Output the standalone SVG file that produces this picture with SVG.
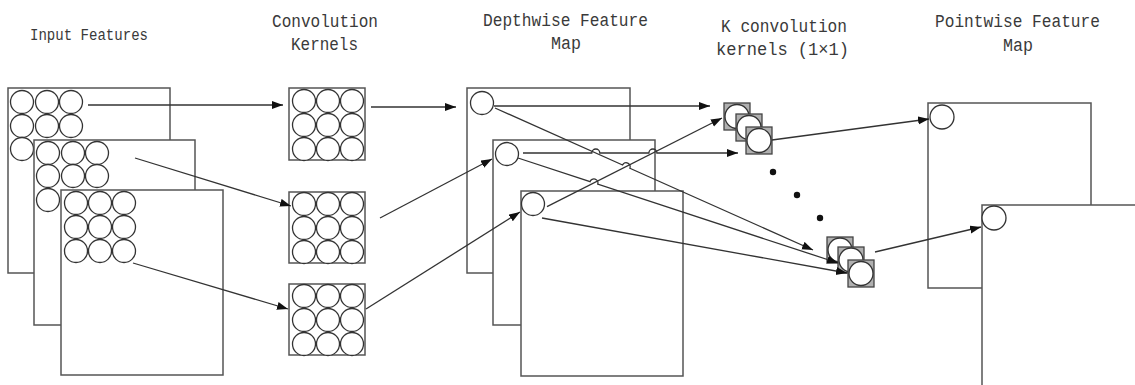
<svg xmlns="http://www.w3.org/2000/svg" width="1135" height="385" viewBox="0 0 1135 385">
<style>
.t{font-family:"Liberation Mono","DejaVu Sans Mono",monospace;fill:#3a3a3a;}
.h{font-size:18px;}
.s{font-size:16px;}
.fr{fill:#fff;stroke:#555;stroke-width:1.5;}
.c{fill:#fff;stroke:#333;stroke-width:1.3;}
.sq{fill:#b0b0b0;stroke:#444;stroke-width:1.3;}
.ln{fill:none;stroke:#333;stroke-width:1.3;}
.ar{marker-end:url(#ah);}
</style>
<defs>
<marker id="ah" markerUnits="userSpaceOnUse" markerWidth="12" markerHeight="10" refX="11" refY="4" orient="auto">
<path d="M0,0 L11,4 L0,8 Z" fill="#111"/>
</marker>
<g id="g3x3">
<circle class="c" cx="0" cy="0" r="11.5"/><circle class="c" cx="24" cy="0" r="11.5"/><circle class="c" cx="48" cy="0" r="11.5"/>
<circle class="c" cx="0" cy="24" r="11.5"/><circle class="c" cx="24" cy="24" r="11.5"/><circle class="c" cx="48" cy="24" r="11.5"/>
<circle class="c" cx="0" cy="48" r="11.5"/><circle class="c" cx="24" cy="48" r="11.5"/><circle class="c" cx="48" cy="48" r="11.5"/>
</g>
</defs>
<rect width="1135" height="385" fill="#fff"/>

<g id="labels">
<text class="t s" x="30" y="40" textLength="118" lengthAdjust="spacingAndGlyphs">Input Features</text>
<text class="t h" x="272" y="27" textLength="106" lengthAdjust="spacingAndGlyphs">Convolution</text>
<text class="t h" x="291" y="50" textLength="67" lengthAdjust="spacingAndGlyphs">Kernels</text>
<text class="t h" x="483" y="26" textLength="165" lengthAdjust="spacingAndGlyphs">Depthwise Feature</text>
<text class="t h" x="551" y="49" textLength="30" lengthAdjust="spacingAndGlyphs">Map</text>
<text class="t h" x="721" y="32" textLength="126" lengthAdjust="spacingAndGlyphs">K convolution</text>
<text class="t h" x="716" y="55" textLength="133" lengthAdjust="spacingAndGlyphs">kernels (1×1)</text>
<text class="t h" x="935" y="27" textLength="165" lengthAdjust="spacingAndGlyphs">Pointwise Feature</text>
<text class="t h" x="1003" y="51" textLength="30" lengthAdjust="spacingAndGlyphs">Map</text>
</g>

<g id="input-features">
<rect class="fr" x="8" y="88" width="162" height="185"/>
<circle class="c" cx="22" cy="102" r="11.5"/><circle class="c" cx="47" cy="102" r="11.5"/><circle class="c" cx="71" cy="102" r="11.5"/>
<circle class="c" cx="22" cy="126" r="11.5"/><circle class="c" cx="47" cy="126" r="11.5"/><circle class="c" cx="71" cy="126" r="11.5"/>
<circle class="c" cx="22" cy="149" r="11.5"/>
<rect class="fr" x="34" y="140" width="161" height="185"/>
<circle class="c" cx="48" cy="153" r="11.5"/><circle class="c" cx="73" cy="153" r="11.5"/><circle class="c" cx="97" cy="153" r="11.5"/>
<circle class="c" cx="48" cy="176" r="11.5"/><circle class="c" cx="73" cy="176" r="11.5"/><circle class="c" cx="97" cy="176" r="11.5"/>
<circle class="c" cx="48" cy="200" r="11.5"/>
<rect class="fr" x="61" y="190" width="162" height="185"/>
<use href="#g3x3" transform="translate(76,203)"/>
</g>

<g id="conv-kernels">
<rect class="fr" x="289" y="88" width="76" height="72"/>
<use href="#g3x3" transform="translate(304,101)"/>
<rect class="fr" x="289" y="192" width="76" height="71"/>
<use href="#g3x3" transform="translate(304,204)"/>
<rect class="fr" x="289" y="284" width="76" height="71"/>
<use href="#g3x3" transform="translate(304,296)"/>
</g>

<g id="depthwise-maps">
<rect class="fr" x="467" y="88" width="163" height="185"/>
<circle class="c" cx="482" cy="103" r="11.5"/>
<rect class="fr" x="493" y="140" width="162" height="185"/>
<circle class="c" cx="507" cy="154" r="11.5"/>
<rect class="fr" x="521" y="191" width="162" height="185"/>
<circle class="c" cx="533" cy="204" r="11.5"/>
</g>

<g id="k-kernels-top">
<rect class="sq" x="724" y="103" width="26" height="27"/><circle class="c" cx="737" cy="116.5" r="12"/>
<rect class="sq" x="736" y="114" width="26" height="27"/><circle class="c" cx="749" cy="127.5" r="12"/>
<rect class="sq" x="746" y="127" width="26" height="27"/><circle class="c" cx="759" cy="140.5" r="12"/>
</g>
<g id="k-dots">
<circle cx="773" cy="172" r="3.2" fill="#111"/>
<circle cx="797" cy="195" r="3.2" fill="#111"/>
<circle cx="820" cy="218" r="3.2" fill="#111"/>
</g>
<g id="k-kernels-bottom">
<rect class="sq" x="827" y="237" width="26" height="26"/><circle class="c" cx="840" cy="250" r="12"/>
<rect class="sq" x="838" y="247" width="26" height="26"/><circle class="c" cx="851" cy="260" r="12"/>
<rect class="sq" x="848" y="260" width="26" height="27"/><circle class="c" cx="861" cy="273.5" r="12"/>
</g>

<g id="pointwise-maps">
<rect class="fr" x="928" y="103" width="163" height="185"/>
<circle class="c" cx="942" cy="117" r="12"/>
<rect class="fr" x="982" y="205" width="170" height="190"/>
<circle class="c" cx="994" cy="218" r="12"/>
</g>

<g id="connectors">
<path class="ln ar" d="M88,105 L283,105"/>
<path class="ln ar" d="M135,158 L291,206"/>
<path class="ln ar" d="M133,263 L288,309"/>
<path class="ln ar" d="M371,107 L456,107"/>
<path class="ln ar" d="M380,218 L492,159"/>
<path class="ln ar" d="M366,309 L520,212"/>
<path class="ln ar" d="M494,106 L710,106"/>
<path class="ln ar" d="M547,206.7 L722,118"/>
<path class="ln ar" d="M523,153 L591.8,153 A4,4 0 0 1 599.8,153 L648.9,153 A4,4 0 0 1 656.9,153 L738,153"/>
<path class="ln ar" d="M495,108 L622.55,164.97 A4,4 0 0 1 629.85,168.23 L813,250"/>
<path class="ln ar" d="M518,158 L590.1,181.65 A4,4 0 0 1 597.7,184.15 L838,263"/>
<path class="ln ar" d="M542,218 L847,273"/>
<path class="ln ar" d="M772,140 L929,119"/>
<path class="ln ar" d="M875,252 L981,227"/>
</g>
</svg>
